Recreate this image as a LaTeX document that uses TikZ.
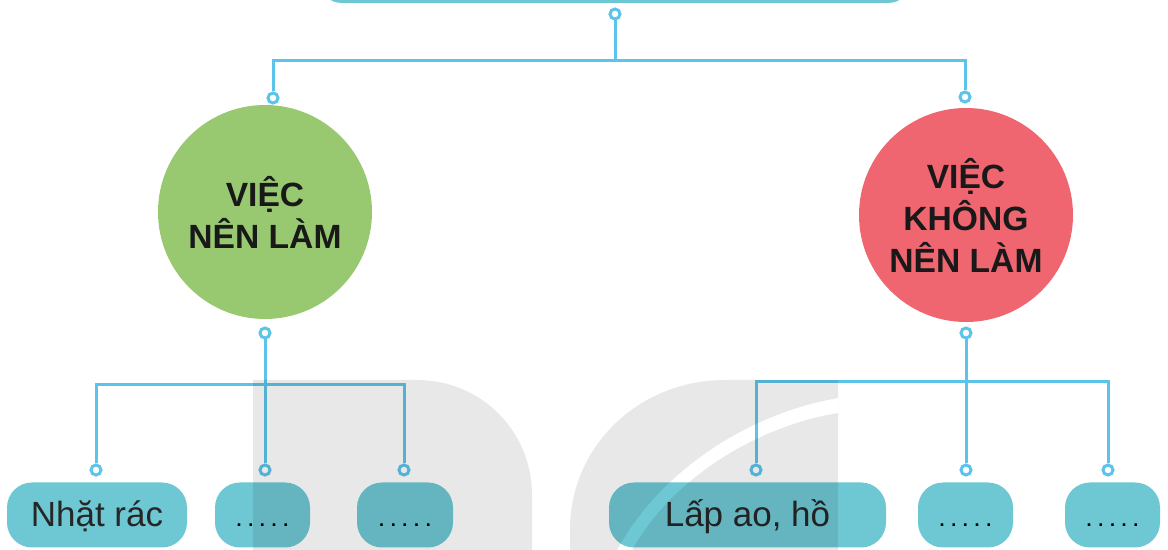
\documentclass[tikz,border=0pt]{standalone}
\usepackage{fontspec}
\setmainfont{Liberation Sans}
\usetikzlibrary{positioning}
\definecolor{wireblue}{RGB}{92,195,234}
\definecolor{boxteal}{RGB}{110,200,211}
\definecolor{leafgreen}{RGB}{152,201,112}
\definecolor{alarmred}{RGB}{239,101,112}

\begin{document}
\begin{tikzpicture}[x=0.5pt, y=-0.5pt,
topic/.style={rectangle, fill=boxteal, rounded corners=12pt, minimum width=297pt, minimum height=40pt},
group/.style={circle, minimum size=107pt, inner sep=0pt, align=center, font=\fontsize{16.8}{21}\selectfont\bfseries, text=black!90},
task/.style={rectangle, fill=boxteal, rounded corners=12.5pt, minimum height=32.5pt, inner sep=0pt, text height=12pt, text depth=0pt, font=\fontsize{17.5}{20}\selectfont, text=black!85},
blank/.style={task, font=\fontsize{9}{11}\selectfont\bfseries, text=black},
ring/.style={circle, draw=wireblue, fill=white, line width=1.5pt, minimum size=5pt, inner sep=0pt},
wire/.style={draw=wireblue, line width=1.5pt},
shade/.style={black, opacity=0.09}
]
\useasboundingbox (0,0) rectangle (1168,550);
\clip (0,0) rectangle (1168,550);
\node[topic] (topic) at (615,-37) {};
\node[group, fill=leafgreen] (good) at (265,212) {VIỆC\\NÊN LÀM};
\node[group, fill=alarmred] (bad) at (966,215) {VIỆC\\KHÔNG\\NÊN LÀM};
\node[ring] (r0) at (615,14) {};
\node[ring] (rgood) at (273,98) {};
\node[ring] (rbad) at (965,97) {};
\node[ring] (rgood2) at (265,333) {};
\node[ring] (rbad2) at (966,333) {};
\node[ring] (ra) at (96,470) {};
\node[ring] (rb) at (265,470) {};
\node[ring] (rc) at (404,470) {};
\node[ring] (rd) at (756,470) {};
\node[ring] (re) at (966,470) {};
\node[ring] (rf) at (1108,470) {};
\coordinate (hub) at (615,61);
\coordinate (hubgood) at (265,385);
\coordinate (hubbad) at (966,382);
\draw[wire] (r0) -- (hub) -| (rgood);
\draw[wire] (hub) -| (rbad);
\draw[wire] (rgood2) -- (hubgood) -| (ra);
\draw[wire] (hubgood) -- (rb);
\draw[wire] (hubgood) -| (rc);
\draw[wire] (rbad2) -- (hubbad) -| (rd);
\draw[wire] (hubbad) -- (re);
\draw[wire] (hubbad) -| (rf);
\node[task, minimum width=90pt] (pick) at (97,515) {Nhặt rác};
\node[blank, minimum width=47.5pt] (gooda) at (262.5,515) {. . . . .};
\node[blank, minimum width=48pt] (goodb) at (405,515) {. . . . .};
\node[task, minimum width=138.5pt] (fill) at (747.5,515) {Lấp ao, hồ};
\node[blank, minimum width=47.5pt] (bada) at (965.5,515) {. . . . .};
\node[blank, minimum width=47.5pt] (badb) at (1112.5,515) {. . . . .};
\fill[shade] (253,560) -- (253,380) -- (417,380) .. controls (481,380) and (532,431) .. (532,495) -- (532,560) -- cycle;
\fill[shade, even odd rule] (570,560) -- (570,530) .. controls (570,445) and (640,380) .. (725,380) -- (838,380) -- (838,560) -- cycle (612,560) .. controls (650,480) and (740,415) .. (838,398) -- (838,413) .. controls (748,428) and (662,487) .. (627,560) -- cycle;
\end{tikzpicture}
\end{document}
